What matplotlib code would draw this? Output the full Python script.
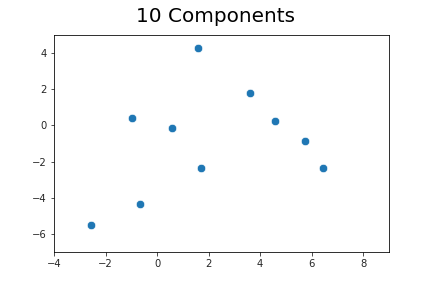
import matplotlib
matplotlib.use('Agg')
import matplotlib.pyplot as plt

# component coordinates
comp_x = [-2.55, -0.65, -0.96, 0.59, 1.60, 1.72, 3.62, 4.59, 5.76, 6.46]
comp_y = [-5.52, -4.36, 0.40, -0.15, 4.25, -2.36, 1.79, 0.24, -0.87, -2.36]
title = '10 Components'

fig, ax = plt.subplots(figsize=(6, 4), dpi=72)
fig.subplots_adjust(left=0.125, right=0.9, top=0.88, bottom=0.124)

ax.scatter(comp_x, comp_y, s=70, color='#1f77b4', edgecolors='white', linewidths=0.6)

ax.set_xlim(-4, 9)
ax.set_ylim(-7, 5)
ax.set_xticks([-4, -2, 0, 2, 4, 6, 8])
ax.set_yticks([-6, -4, -2, 0, 2, 4])
ax.tick_params(labelsize=10, colors='#262626')

fig.suptitle(title, fontsize=20, y=0.975)

fig.savefig('out.png', dpi=72)
